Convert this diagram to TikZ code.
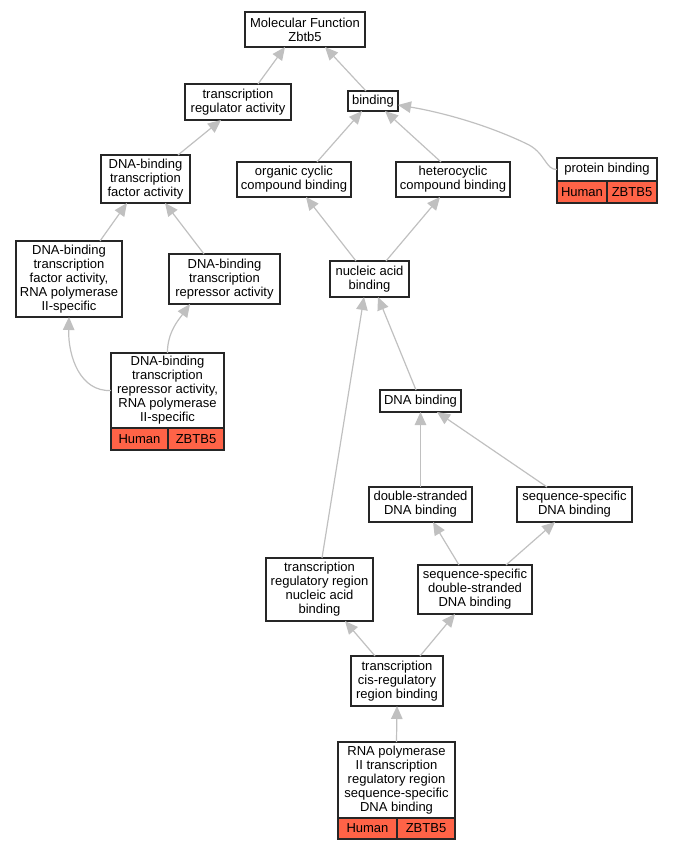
\documentclass[tikz,border=0pt]{standalone}
\usepackage{fontspec}
\setmainfont{Liberation Sans}
\usetikzlibrary{arrows.meta}
\definecolor{edgegray}{RGB}{192,192,192}
\definecolor{humanred}{RGB}{255,99,71}

\begin{document}
\begin{tikzpicture}[x=1pt,y=-1pt,
  term/.style={draw=black!85,line width=1.3pt,inner sep=0pt,outer sep=0pt,align=center,font=\fontsize{13}{14}\selectfont},
  cell/.style={term,fill=humanred,anchor=north west},
  isa/.style={draw=edgegray,line width=1.2pt,-{Triangle[length=13pt,width=11.5pt]}}]
\useasboundingbox (0,0) rectangle (672,851);
% terms
\node[term,minimum width=120pt,minimum height=35pt] (mf) at (305,29.5) {Molecular Function\\Zbtb5};
\node[term,minimum width=106pt,minimum height=36pt] (tra) at (238,102) {transcription\\regulator activity};
\node[term,minimum width=50pt,minimum height=20pt] (bind) at (373,101) {binding};
\node[term,minimum width=89pt,minimum height=48pt] (dbtfa) at (145.5,179) {DNA-binding\\transcription\\factor activity};
\node[term,minimum width=114pt,minimum height=35pt] (occb) at (294,179.5) {organic cyclic\\compound binding};
\node[term,minimum width=114pt,minimum height=35pt] (hcb) at (453,179.5) {heterocyclic\\compound binding};
\node[term,minimum width=100pt,minimum height=23pt] (pb) at (607,169.5) {protein binding};
\node[cell,minimum width=50pt,minimum height=22pt] (pbh) at (pb.south west) {Human};
\node[cell,minimum width=50pt,minimum height=22pt] (pbz) at (pbh.north east) {ZBTB5};
\node[term,minimum width=106pt,minimum height=76pt] (dbtfa2) at (69,279) {DNA-binding\\transcription\\factor activity,\\RNA polymerase\\II-specific};
\node[term,minimum width=111pt,minimum height=50pt] (dbtra) at (224.5,279) {DNA-binding\\transcription\\repressor activity};
\node[term,minimum width=79pt,minimum height=36pt] (nab) at (369.5,279) {nucleic acid\\binding};
\node[term,minimum width=113pt,minimum height=75pt] (dbtra2) at (167.5,390.5) {DNA-binding\\transcription\\repressor activity,\\RNA polymerase\\II-specific};
\node[cell,minimum width=57pt,minimum height=22pt] (dbtra2h) at (dbtra2.south west) {Human};
\node[cell,minimum width=56pt,minimum height=22pt] (dbtra2z) at (dbtra2h.north east) {ZBTB5};
\node[term,minimum width=81pt,minimum height=22pt] (dnab) at (420.5,401) {DNA binding};
\node[term,minimum width=103pt,minimum height=35pt] (dsdna) at (420.5,504.5) {double-stranded\\DNA binding};
\node[term,minimum width=115pt,minimum height=35pt] (ssdna) at (574.5,504.5) {sequence-specific\\DNA binding};
\node[term,minimum width=107pt,minimum height=63pt] (trrnab) at (319.5,589.5) {transcription\\regulatory region\\nucleic acid\\binding};
\node[term,minimum width=114pt,minimum height=49pt] (ssds) at (475,589.5) {sequence-specific\\double-stranded\\DNA binding};
\node[term,minimum width=92pt,minimum height=50pt] (tcrb) at (397,681) {transcription\\cis-regulatory\\region binding};
\node[term,minimum width=117pt,minimum height=76pt] (rnap) at (396.5,780) {RNA polymerase\\II transcription\\regulatory region\\sequence-specific\\DNA binding};
\node[cell,minimum width=59pt,minimum height=21pt] (rnaph) at (rnap.south west) {Human};
\node[cell,minimum width=58pt,minimum height=21pt] (rnapz) at (rnaph.north east) {ZBTB5};
% is_a edges
\draw[isa] ([xshift=20pt]tra.north) -- ([xshift=-20pt]mf.south);
\draw[isa] ([xshift=-7pt]bind.north) -- ([xshift=20pt]mf.south);
\draw[isa] ([xshift=32.5pt]dbtfa.north) -- ([xshift=-17pt]tra.south);
\draw[isa] ([xshift=23pt]occb.north) -- ([xshift=-11pt]bind.south);
\draw[isa] ([xshift=-12pt]hcb.north) -- ([xshift=12pt]bind.south);
\draw[isa] (pb.west) .. controls (545,170) and (546,152) .. (525,143)
  .. controls (485,124) and (440,112) .. ([yshift=-4pt]bind.east);
\draw[isa] ([xshift=31pt]dbtfa2.north) -- ([xshift=-18.5pt]dbtfa.south);
\draw[isa] ([xshift=-20.5pt]dbtra.north) -- ([xshift=19.5pt]dbtfa.south);
\draw[isa] (dbtra2.west) .. controls (80,392) and (68,356) .. (dbtfa2.south);
\draw[isa] (dbtra2.north) .. controls (167,332) and (180,318) .. ([xshift=-34.5pt]dbtra.south);
\draw[isa] ([xshift=-13.5pt]nab.north) -- ([xshift=12pt]occb.south);
\draw[isa] ([xshift=16.5pt]nab.north) -- ([xshift=-13pt]hcb.south);
\draw[isa] ([xshift=-4.5pt]dnab.north) -- ([xshift=8.5pt]nab.south);
\draw[isa] ([xshift=2.5pt]trrnab.north) -- ([xshift=-5.5pt]nab.south);
\draw[isa] (dsdna.north) -- (dnab.south);
\draw[isa] ([xshift=-27.5pt]ssdna.north) -- ([xshift=16.5pt]dnab.south);
\draw[isa] ([xshift=-16pt]ssds.north) -- ([xshift=12.5pt]dsdna.south);
\draw[isa] ([xshift=31pt]ssds.north) -- ([xshift=-19.5pt]ssdna.south);
\draw[isa] ([xshift=-22pt]tcrb.north) -- ([xshift=25.5pt]trrnab.south);
\draw[isa] ([xshift=23pt]tcrb.north) -- ([xshift=-20pt]ssds.south);
\draw[isa] (rnap.north) -- (tcrb.south);
\end{tikzpicture}
\end{document}
